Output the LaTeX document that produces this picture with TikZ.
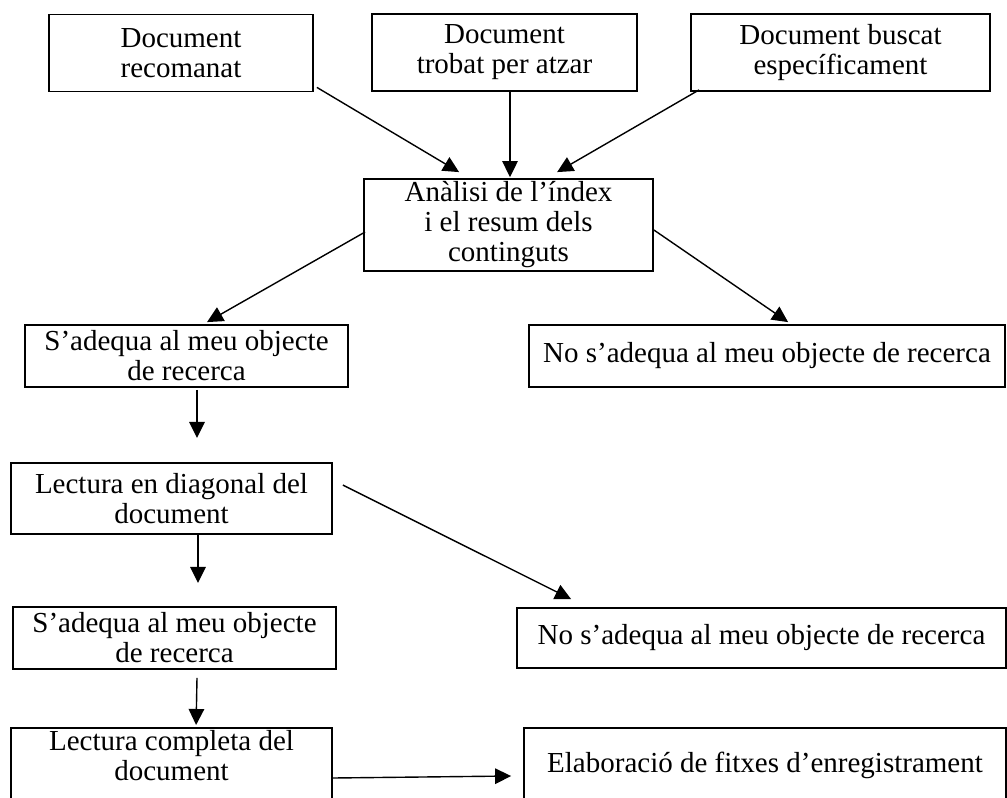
\documentclass[tikz,border=0pt]{standalone}
\usepackage{fontspec}
\setmainfont{Liberation Serif}
\usetikzlibrary{arrows.meta,calc}
\begin{document}
\begin{tikzpicture}[x=1pt,y=-1pt,
  box/.style={draw=black, line width=1.8pt, rectangle, align=center, inner sep=0pt,
              font=\fontsize{29}{30}\selectfont},
  txt/.style={align=center, inner sep=0pt, font=\fontsize{29}{30}\selectfont},
  conn/.style={line width=1.4pt, -{Triangle[length=16pt,width=15.5pt]}}]
\fill[white] (0,0) rectangle (1007,798);
\clip (0,0) rectangle (1007,798);

% top row
\node[box, minimum width=264pt, minimum height=77pt] (b1) at (181,53) {Document\\recomanat};
\node[box, minimum width=265pt, minimum height=77pt] (b2) at (504.5,52.5) {Document\\trobat per atzar};
\node[box, minimum width=299pt, minimum height=77pt] (b3) at (840.5,52.5) {Document buscat\\específicament};

% analysis
\node[box, minimum width=289pt, minimum height=92pt] (an) at (508.5,225) {Anàlisi de l’índex\\i el resum dels\\continguts};

% second level
\node[box, minimum width=323pt, minimum height=62pt] (s1) at (186.5,356) {S’adequa al meu objecte\\de recerca};
\node[box, minimum width=476pt, minimum height=62pt] (n1) at (767,356) {No s’adequa al meu objecte de recerca};

% diagonal reading
\node[box, minimum width=321pt, minimum height=71pt] (ld) at (171.5,498.5) {Lectura en diagonal del\\document};

\node[box, minimum width=323pt, minimum height=62pt] (s2) at (174.5,638) {S’adequa al meu objecte\\de recerca};
\node[box, minimum width=489pt, minimum height=60pt] (n2) at (761.5,638) {No s’adequa al meu objecte de recerca};

% bottom row (cut by the page edge)
\node[box, minimum width=321pt, minimum height=90pt, anchor=north] (lc) at (171.5,727) {};
\node[txt, anchor=north] (lct) at (171.5,730.5) {Lectura completa del\\document};
\node[box, minimum width=482pt, minimum height=75pt, anchor=north] (el) at (765,727) {Elaboració de fitxes d’enregistrament};

% free ends
\coordinate (t1) at ($(s1.south)+(10.5,50)$);
\coordinate (t2) at ($(ld.south)+(26.5,48)$);

% connectors
\draw[conn] ($(b1.south east)+(3,-5)$) -- ($(an.north west)+(96,-6)$);
\draw[conn] ($(b2.south)+(5.5,0)$) -- ($(an.north)+(1.5,-1)$);
\draw[conn] ($(b3.south west)+(9,-2)$) -- ($(an.north west)+(194,-6)$);
\draw[conn] ($(an.west)+(2,7)$) -- ($(s1.north)+(20.5,-2)$);
\draw[conn] ($(an.east)+(0,5)$) -- ($(n1.north west)+(260,-2)$);
\draw[conn] ($(s1.south)+(10.5,2)$) -- (t1);
\draw[conn] ($(ld.north east)+(10,23)$) -- ($(n2.north west)+(55,-8)$);
\draw[conn] ($(ld.south)+(26.5,0)$) -- (t2);
\draw[conn] ($(s2.south)+(22.5,8)$) -- ($(lc.north west)+(186,-2)$);
\draw[conn] ($(lc.north east)+(0,51)$) -- ($(el.north west)+(-12,49)$);
\end{tikzpicture}
\end{document}
